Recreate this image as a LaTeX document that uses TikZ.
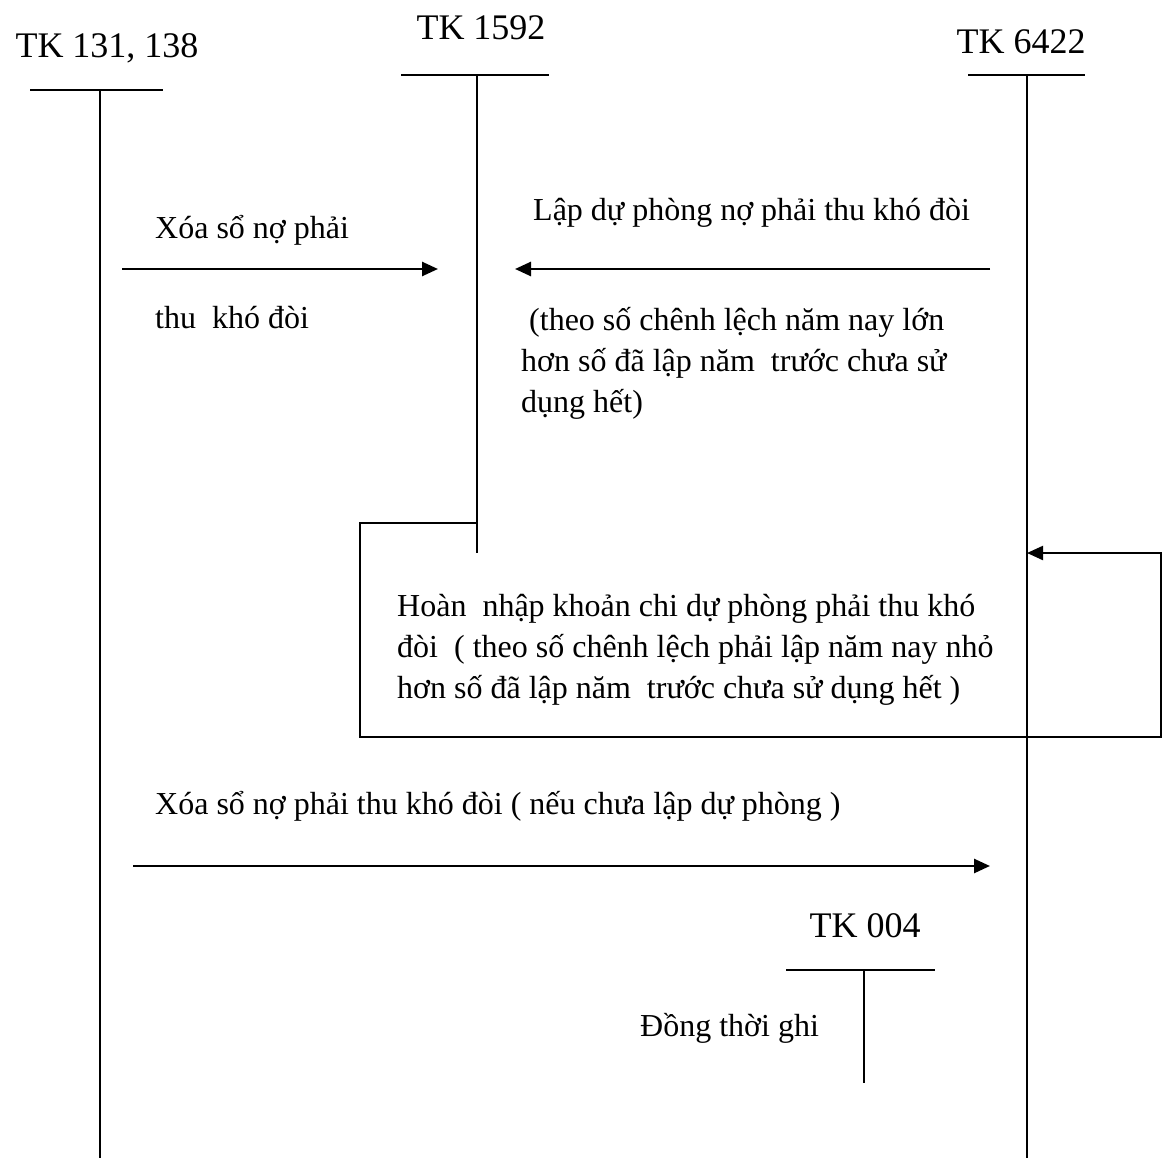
\documentclass[tikz,border=0pt]{standalone}
\usepackage{fontspec}
\setmainfont{Liberation Serif}
\usetikzlibrary{arrows.meta,positioning}
\tikzset{
  acct/.style={font=\fontsize{36}{42}\selectfont, inner sep=0pt},
  note/.style={font=\fontsize{32}{41}\selectfont, inner sep=0pt,
    align=left, anchor=west},
  tline/.style={line width=2pt},
  flow/.style={-{Triangle[length=16pt,width=14pt]}, line width=2.6pt},
  loopflow/.style={-{Triangle[length=16pt,width=14pt]}, line width=2.2pt}
}

\begin{document}
\begin{tikzpicture}[x=1pt, y=-1pt]
  \useasboundingbox (0,0) rectangle (1163,1158);
  % tai khoan chu T
  \node[acct] (tk131) at (107,48) {TK 131, 138};
  \node[acct] (tk1592) at (481,28) {TK 1592};
  \node[acct] (tk6422) at (1021,42) {TK 6422};
  \node[acct] (tk004) at (865,926) {TK 004};
  \draw[tline] (30,90) -- (163,90);
  \draw[tline] (100,90) -- (100,1158);
  \draw[tline] (401,75) -- (549,75);
  \draw[tline] (477,75) -- (477,553);
  \draw[tline] (968,75) -- (1085,75);
  \draw[tline] (1027,75) -- (1027,1158);
  \draw[tline] (786,970) -- (935,970);
  \draw[tline] (864,970) -- (864,1083);
  % dau mui ten
  \coordinate (xoaA) at (122,269);
  \coordinate (xoaB) at (438,269);
  \coordinate (lapA) at (990,269);
  \coordinate (lapB) at (515,269);
  \coordinate (hoanA) at (477,523);
  \coordinate (hoanB) at (360,737);
  \coordinate (hoanC) at (1161,553);
  \coordinate (hoanD) at (1027,553);
  \coordinate (xoa3A) at (133,866);
  \coordinate (xoa3B) at (990,866);
  % noi dung
  \node[note] (xoa1) at (155,230) {Xóa sổ nợ phải};
  \node[note] (xoa2) at (155,318) {thu\ \ khó đòi};
  \node[note] (lap) at (533,213) {Lập dự phòng nợ phải thu khó đòi};
  \node[note] (theo) at (521,363) {\ (theo số chênh lệch năm nay lớn\\hơn số đã lập năm\ \ trước chưa sử\\dụng hết)};
  \node[note] (hoan) at (397,650) {Hoàn\ \ nhập khoản chi dự phòng phải thu khó\\đòi\ \ ( theo số chênh lệch phải lập năm nay nhỏ\\hơn số đã lập năm\ \ trước chưa sử dụng hết )};
  \node[note] (xoa3) at (155,806) {Xóa sổ nợ phải thu khó đòi ( nếu chưa lập dự phòng )};
  \node[note] (dong) at (640,1028) {Đồng thời ghi};
  % but toan
  \draw[flow] (xoaA) -- (xoaB);
  \draw[flow] (lapA) -- (lapB);
  \draw[loopflow] (hoanA) -| (hoanB) -| (hoanC) -- (hoanD);
  \draw[flow] (xoa3A) -- (xoa3B);
\end{tikzpicture}
\end{document}
